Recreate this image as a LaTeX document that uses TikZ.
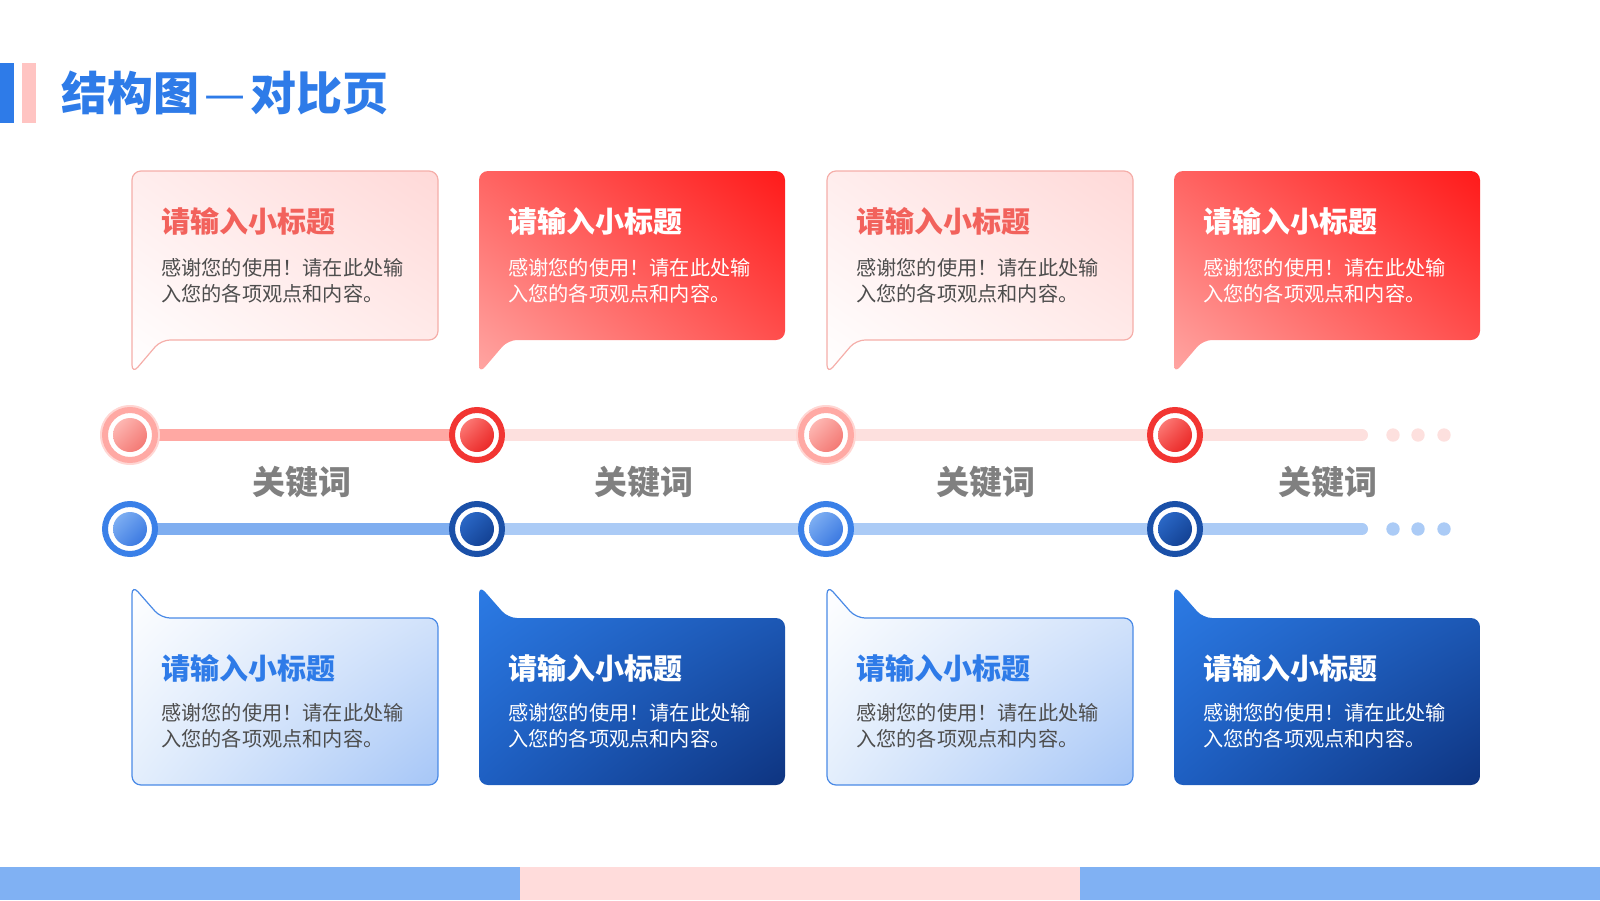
\documentclass[tikz,border=0pt]{standalone}
\usepackage{fontspec}
\setmainfont{Noto Sans CJK SC}
\usetikzlibrary{shadings}

\definecolor{titleblue}{HTML}{2E7BE8}
\definecolor{titlepink}{HTML}{FFC4C2}
\definecolor{redtext}{HTML}{F2625C}
\definecolor{bodygray}{HTML}{4D4D4D}
\definecolor{kwgray}{HTML}{808080}
\definecolor{barblue}{HTML}{80B1F3}
\definecolor{barpink}{HTML}{FFDCDB}
\definecolor{lrborder}{HTML}{F5AEA9}
\definecolor{lrA}{HTML}{FFEDED}
\definecolor{lrB}{HTML}{FFD9D8}
\definecolor{lrC}{HTML}{FFEDEC}
\definecolor{drA}{HTML}{FF6462}
\definecolor{drB}{HTML}{FF1A1A}
\definecolor{drC}{HTML}{FFA6A3}
\definecolor{drD}{HTML}{FF5856}
\definecolor{lbborder}{HTML}{4A8AE6}
\definecolor{lbB}{HTML}{D9E7FB}
\definecolor{lbC}{HTML}{E3EEFC}
\definecolor{lbD}{HTML}{A6C6F7}
\definecolor{dbA}{HTML}{2C7BE5}
\definecolor{dbB}{HTML}{1F5EBE}
\definecolor{dbC}{HTML}{1E5FC2}
\definecolor{dbD}{HTML}{0E3480}
\definecolor{redseg1}{HTML}{FFA8A3}
\definecolor{redseg2}{HTML}{FDE0DE}
\definecolor{blueseg1}{HTML}{7FAEF0}
\definecolor{blueseg2}{HTML}{ABCBF6}
\definecolor{ringlightred}{HTML}{FFA9A4}
\definecolor{ringdarkred}{HTML}{F23532}
\definecolor{ringlightblue}{HTML}{3A80E8}
\definecolor{ringdarkblue}{HTML}{1A50A8}
\definecolor{glowred}{HTML}{FFD6D3}
\definecolor{clrA}{HTML}{FFC4C0}
\definecolor{clrB}{HTML}{F89590}
\definecolor{clrC}{HTML}{F26E69}
\definecolor{cdrA}{HTML}{FF8A86}
\definecolor{cdrB}{HTML}{F24744}
\definecolor{cdrC}{HTML}{E81E1E}
\definecolor{clbA}{HTML}{8AB8F5}
\definecolor{clbB}{HTML}{5B93EA}
\definecolor{clbC}{HTML}{2F6FDD}
\definecolor{cdbA}{HTML}{2F6FD0}
\definecolor{cdbB}{HTML}{1E54AC}
\definecolor{cdbC}{HTML}{0F3A8A}

\tikzset{
  bubble lightred/.style={draw=lrborder, line width=1.2pt,
    upper left=lrA, upper right=lrB, lower left=white, lower right=lrC},
  bubble darkred/.style={
    upper left=drA, upper right=drB, lower left=drC, lower right=drD},
  bubble lightblue/.style={draw=lbborder, line width=1.2pt,
    upper left=white, upper right=lbB, lower left=lbC, lower right=lbD},
  bubble darkblue/.style={
    upper left=dbA, upper right=dbB, lower left=dbC, lower right=dbD},
  htitle/.style={anchor=west, inner sep=0pt, font=\fontsize{29}{29}\selectfont\bfseries},
  hbody/.style={anchor=west, inner sep=0pt, align=left, font=\fontsize{20.2}{26}\selectfont},
  keyword/.style={text=kwgray, inner sep=0pt, font=\fontsize{33}{33}\selectfont\bfseries},
  seg/.style={line width=12pt, line cap=round},
  ring/.style={circle, minimum size=50pt, line width=6pt, fill=white, inner sep=0pt},
  core light red/.style={upper left=clrA, upper right=clrB, lower left=clrB, lower right=clrC},
  core dark red/.style={upper left=cdrA, upper right=cdrB, lower left=cdrB, lower right=cdrC},
  core light blue/.style={upper left=clbA, upper right=clbB, lower left=clbB, lower right=clbC},
  core dark blue/.style={upper left=cdbA, upper right=cdbB, lower left=cdbB, lower right=cdbC}
}

\begin{document}
\begin{tikzpicture}[x=1pt,y=-1pt]
\useasboundingbox (0,0) rectangle (1600,900);

% header
\fill[titleblue] (0,63) rectangle (14,123);
\fill[titlepink] (22,63) rectangle (36,123);
\node[anchor=west, inner sep=0pt, text=titleblue, font=\fontsize{46}{46}\selectfont\bfseries] (title) at (61,93) {结构图{\mdseries\kern5pt—\kern5pt}对比页};

% upper bubbles
\foreach \x/\s/\tc/\bc [count=\i] in {132/lightred/redtext/bodygray, 479/darkred/white/white, 827/lightred/redtext/bodygray, 1174/darkred/white/white}{
  \path[bubble \s, rounded corners=9pt] (\x,374) -- (\x,171) -- (\x+306,171) -- (\x+306,340) -- (\x+29,340) -- cycle;
  \node[htitle, text=\tc] (ut\i) at (\x+29,221) {请输入小标题};
  \node[hbody, text=\bc] (ub\i) at (\x+29,281) {感谢您的使用！请在此处输\\入您的各项观点和内容。};
}

% lower bubbles
\foreach \x/\s/\tc/\bc [count=\i] in {132/lightblue/titleblue/bodygray, 479/darkblue/white/white, 827/lightblue/titleblue/bodygray, 1174/darkblue/white/white}{
  \path[bubble \s, rounded corners=9pt] (\x,585) -- (\x+29,618) -- (\x+306,618) -- (\x+306,785) -- (\x,785) -- cycle;
  \node[htitle, text=\tc] (lt\i) at (\x+29,668) {请输入小标题};
  \node[hbody, text=\bc] (lb\i) at (\x+29,726) {感谢您的使用！请在此处输\\入您的各项观点和内容。};
}

% timelines
\coordinate (r1) at (130,435);
\coordinate (r2) at (477,435);
\coordinate (rend) at (1362,435);
\coordinate (b1) at (130,529);
\coordinate (b2) at (477,529);
\coordinate (bend) at (1362,529);
\draw[seg, redseg2] (r2) -- (rend);
\draw[seg, redseg1, line cap=butt] (r1) -- (r2);
\draw[seg, blueseg2] (b2) -- (bend);
\draw[seg, blueseg1, line cap=butt] (b1) -- (b2);
\foreach \x in {1393,1418,1444}{
  \fill[redseg2] (\x,435) circle (6.7);
  \fill[blueseg2] (\x,529) circle (6.7);
}

% markers
\fill[glowred] (130,435) circle (30);
\fill[glowred] (826,435) circle (30);
\foreach \x/\k [count=\i] in {130/light, 477/dark, 826/light, 1175/dark}{
  \node[ring, draw=ring\k red] (rr\i) at (\x,435) {};
  \node[ring, draw=ring\k blue] (br\i) at (\x,529) {};
  \shade[core \k\space red] (rr\i.center) circle (17);
  \shade[core \k\space blue] (br\i.center) circle (17);
}

% keywords
\node[keyword] (k1) at (302,482) {关键词};
\node[keyword] (k2) at (644,482) {关键词};
\node[keyword] (k3) at (986,482) {关键词};
\node[keyword] (k4) at (1328,482) {关键词};

% footer
\fill[barblue] (0,867) rectangle (520,900);
\fill[barpink] (520,867) rectangle (1080,900);
\fill[barblue] (1080,867) rectangle (1600,900);
\end{tikzpicture}
\end{document}
